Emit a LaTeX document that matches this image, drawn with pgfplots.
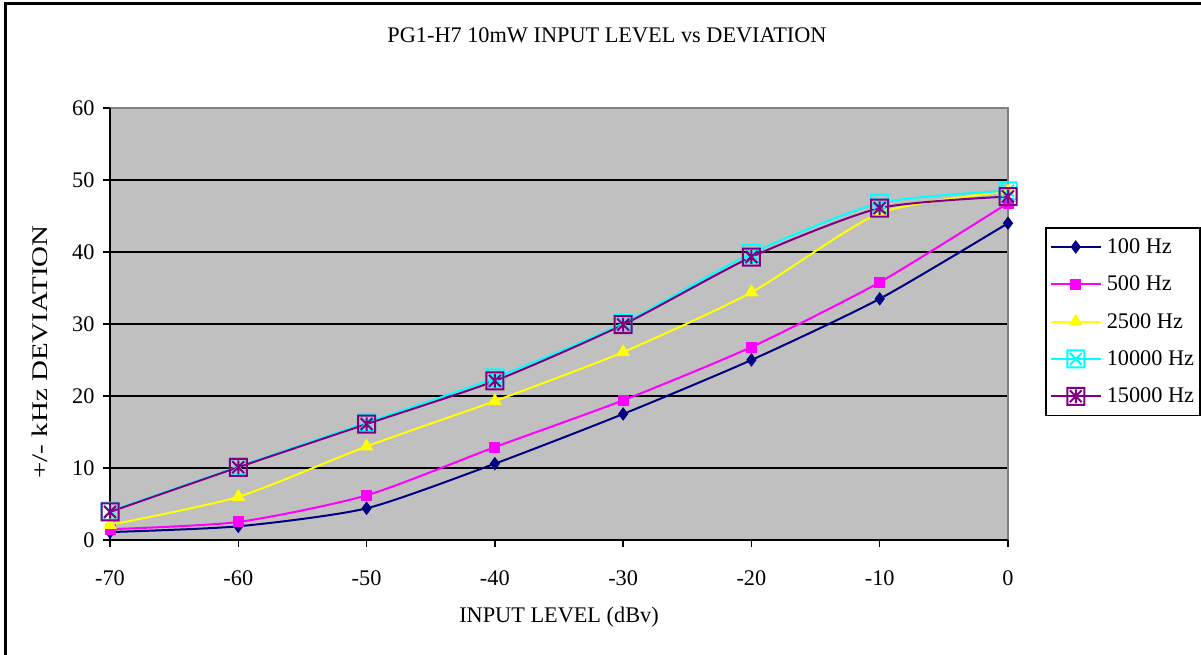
\documentclass[border=0pt]{standalone}
\usepackage{pgfplots}
\pgfplotsset{compat=1.18}
\usepackage{fontspec}
\setmainfont{Liberation Serif}
\definecolor{plotgrey}{HTML}{C0C0C0}
\definecolor{bordgrey}{HTML}{808080}
\definecolor{sNavy}{HTML}{000080}
\definecolor{sMag}{HTML}{FF00FF}
\definecolor{sYel}{HTML}{FFFF00}
\definecolor{sCyan}{HTML}{00FFFF}
\definecolor{sPurp}{HTML}{800080}
\pgfdeclareplotmark{boxx}{%
  \pgfpathrectangle{\pgfpoint{-\pgfplotmarksize}{-\pgfplotmarksize}}{\pgfpoint{2\pgfplotmarksize}{2\pgfplotmarksize}}%
  \pgfpathmoveto{\pgfpoint{-0.7\pgfplotmarksize}{-0.7\pgfplotmarksize}}\pgfpathlineto{\pgfpoint{0.7\pgfplotmarksize}{0.7\pgfplotmarksize}}%
  \pgfpathmoveto{\pgfpoint{-0.7\pgfplotmarksize}{0.7\pgfplotmarksize}}\pgfpathlineto{\pgfpoint{0.7\pgfplotmarksize}{-0.7\pgfplotmarksize}}%
  \pgfusepathqstroke}
\pgfdeclareplotmark{boxast}{%
  \pgfpathrectangle{\pgfpoint{-\pgfplotmarksize}{-\pgfplotmarksize}}{\pgfpoint{2\pgfplotmarksize}{2\pgfplotmarksize}}%
  \pgfpathmoveto{\pgfpoint{-0.7\pgfplotmarksize}{-0.7\pgfplotmarksize}}\pgfpathlineto{\pgfpoint{0.7\pgfplotmarksize}{0.7\pgfplotmarksize}}%
  \pgfpathmoveto{\pgfpoint{-0.7\pgfplotmarksize}{0.7\pgfplotmarksize}}\pgfpathlineto{\pgfpoint{0.7\pgfplotmarksize}{-0.7\pgfplotmarksize}}%
  \pgfpathmoveto{\pgfpoint{0pt}{-0.8\pgfplotmarksize}}\pgfpathlineto{\pgfpoint{0pt}{0.8\pgfplotmarksize}}%
  \pgfusepathqstroke}
\newcommand{\cf}{\fontsize{22.3}{25}\selectfont}
\begin{document}
\begin{tikzpicture}
\useasboundingbox (0pt,0pt) rectangle (1201pt,655pt);
\draw[line width=3pt] (5pt,-2pt) -- (5pt,651pt) -- (1203pt,651pt);
\node[anchor=base,font=\cf] at (607pt,612pt) {PG1-H7 10mW INPUT LEVEL vs DEVIATION};
\node[anchor=base,font=\cf] at (559pt,32pt) {INPUT LEVEL (dBv)};
\node[rotate=90,font=\cf] at (40pt,303pt) {\scalebox{1.3}[1]{+/- kHz DEVIATION}};
\begin{axis}[
  at={(110pt,115pt)}, anchor=south west,
  width=898pt, height=432pt, scale only axis,
  xmin=-70, xmax=0, ymin=0, ymax=60,
  xtick={-70,-60,-50,-40,-30,-20,-10,0},
  xticklabels={{-70},{-60},{-50},{-40},{-30},{-20},{-10},{0}},
  ytick={0,10,20,30,40,50,60},
  yticklabels={{0},{10},{20},{30},{40},{50},{60}},
  xtick pos=bottom, ytick pos=left,
  tick align=outside, major tick length=7pt,
  tick style={black, line width=1.5pt},
  axis line style={draw=none},
  axis background/.style={fill=plotgrey},
  ymajorgrids, grid style={black, line width=1.4pt},
  ticklabel style={font=\cf},
  xticklabel style={yshift=-20pt},
  yticklabel style={xshift=-5pt},
  clip=false,
  legend style={at={(rel axis cs:1.0412,0.7245)}, anchor=north west,
    draw=black, line width=1.5pt, fill=white, font=\cf,
    inner xsep=4pt, inner ysep=9pt, row sep=17pt,
    nodes={inner sep=2pt},
    /tikz/every odd column/.append style={column sep=3pt}},
  legend cell align=left,
  legend image code/.code={\draw[mark repeat=2,mark phase=2,#1] plot coordinates {(0pt,0pt)(25pt,0pt)(50pt,0pt)};},
]
\draw[bordgrey, line width=1.8pt] (rel axis cs:0,1) -- (rel axis cs:1,1) -- (rel axis cs:1,0);
\draw[black, line width=2pt] (rel axis cs:0,1) -- (rel axis cs:0,0) -- (rel axis cs:1,0);
\addplot[sNavy, line width=2pt, smooth, tension=0.4, mark=diamond*, mark size=6pt, mark options={solid, fill=sNavy, line width=1pt}]
 coordinates {(-70,1.1)(-60,1.9)(-50,4.4)(-40,10.6)(-30,17.5)(-20,25.0)(-10,33.5)(0,44.0)};
\addlegendentry{100 Hz}
\addplot[sMag, line width=2pt, smooth, tension=0.4, mark=square*, mark size=5pt, mark options={solid, fill=sMag, line width=1pt}]
 coordinates {(-70,1.5)(-60,2.5)(-50,6.2)(-40,12.9)(-30,19.4)(-20,26.8)(-10,35.8)(0,46.8)};
\addlegendentry{500 Hz}
\addplot[sYel, line width=2pt, smooth, tension=0.4, mark=triangle*, mark size=7pt, mark options={solid, fill=sYel, line width=1pt}]
 coordinates {(-70,2.1)(-60,6.0)(-50,13.0)(-40,19.3)(-30,26.1)(-20,34.4)(-10,45.4)(0,48.4)};
\addlegendentry{2500 Hz}
\addplot[sCyan, line width=2pt, smooth, tension=0.4, mark=boxx, mark size=8.5pt, mark options={solid, line width=2pt}]
 coordinates {(-70,4.0)(-60,10.2)(-50,16.3)(-40,22.5)(-30,30.1)(-20,39.8)(-10,46.8)(0,48.5)};
\addlegendentry{10000 Hz}
\addplot[sPurp, line width=2pt, smooth, tension=0.4, mark=boxast, mark size=8.5pt, mark options={solid, line width=2pt}]
 coordinates {(-70,3.9)(-60,10.1)(-50,16.1)(-40,22.1)(-30,29.9)(-20,39.3)(-10,46.1)(0,47.7)};
\addlegendentry{15000 Hz}
\end{axis}
\end{tikzpicture}
\end{document}
